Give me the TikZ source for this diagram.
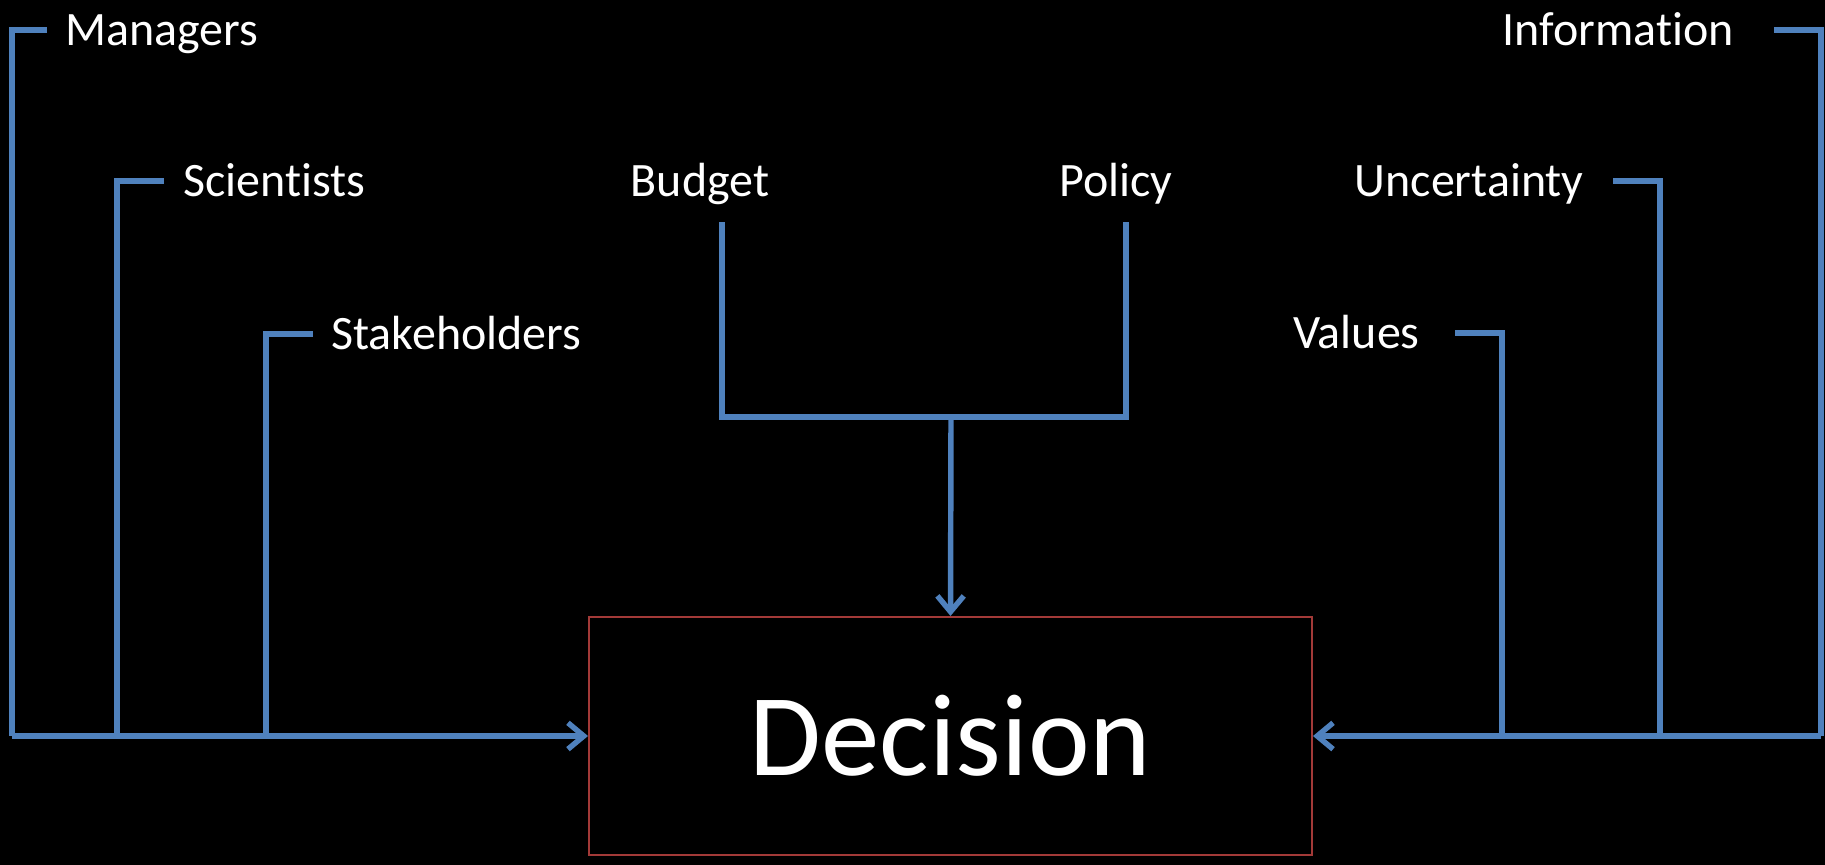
\documentclass[tikz,border=0pt]{standalone}
\usepackage{fontspec}
\setmainfont{Carlito}[Ligatures=NoCommon]
\usetikzlibrary{arrows.meta, calc, positioning}
\definecolor{linkblue}{HTML}{4F81BD}
\definecolor{boxred}{HTML}{A33A38}

\begin{document}
\begin{tikzpicture}[x=0.02cm, y=-0.02cm, >={Straight Barb[length=9pt,width=15pt]},
    lbl/.style={text=white, inner sep=0pt, font=\fontsize{27.3}{32}\selectfont, text height=17.2pt, text depth=0pt},
    link/.style={draw=linkblue, line width=3.1pt}]

  % background
  \fill[black] (0,0) rectangle (1825,865);
  \useasboundingbox (0,0) rectangle (1825,865);

  % decision box
  \node[draw=boxred, line width=1.2pt, text=white, minimum width=14.46cm, minimum height=4.76cm, font=\fontsize{66.5}{80}\selectfont] (dec) at (950.5,736) {Decision};

  % labels, left
  \node[lbl, anchor=west] (mgr) at (65,30) {Managers};
  \node[lbl, anchor=west] (sci) at (183,181) {Scientists};
  \node[lbl, anchor=west] (stk) at (331,334) {Stakeholders};
  % labels, right
  \node[lbl, anchor=east] (inf) at (1734,30) {Information};
  \node[lbl, anchor=east] (unc) at (1584,181) {Uncertainty};
  \node[lbl, anchor=east] (val) at (1420,333) {Values};
  % labels, middle
  \node[lbl] (bud) at (700,181) {Budget};
  \node[lbl] (pol) at (1116,181) {Policy};

  % where the brackets meet the feed lines
  \coordinate (mgr-b) at (12,736);
  \coordinate (sci-b) at (117,736);
  \coordinate (stk-b) at (266,736);
  \coordinate (inf-b) at (1821,736);
  \coordinate (unc-b) at (1660,736);
  \coordinate (val-b) at (1502,736);
  \coordinate (bud-t) at (722,222);
  \coordinate (pol-t) at (1126,222);
  \coordinate (mid) at (951,417);

  % left feed
  \draw[link] ([xshift=-0.36cm]mgr.west) -| (mgr-b);
  \draw[link] ([xshift=-0.38cm]sci.west) -| (sci-b);
  \draw[link] ([xshift=-0.36cm]stk.west) -| (stk-b);
  \draw[link,->] (mgr-b) -- (dec.west);

  % right feed
  \draw[link] ([xshift=0.8cm]inf.east) -| (inf-b);
  \draw[link] ([xshift=0.58cm]unc.east) -| (unc-b);
  \draw[link] ([xshift=0.7cm]val.east) -| (val-b);
  \draw[link,->] (inf-b) -- (dec.east);

  % top feed
  \draw[link] (bud-t) |- (mid) -| (pol-t);
  \draw[link,->] (mid) -- (dec.north);

\end{tikzpicture}
\end{document}
